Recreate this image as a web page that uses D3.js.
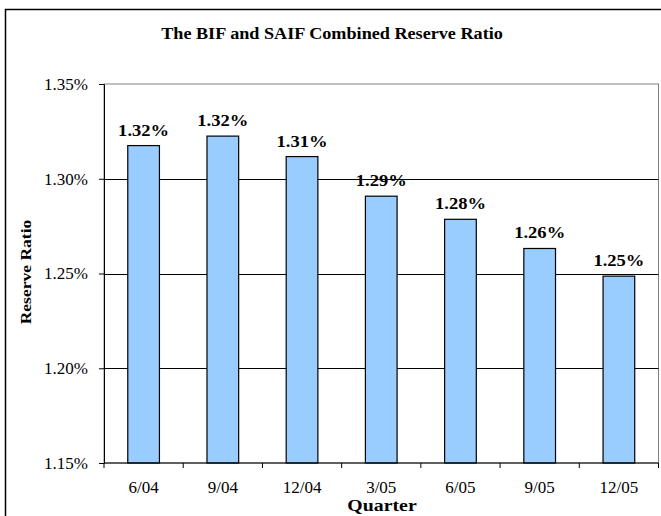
<!DOCTYPE html>
<html>
<head>
<meta charset="utf-8">
<script src="https://d3js.org/d3.v7.min.js"></script>
<style>
  body { margin: 0; background: #fff; }
  svg text { font-family: "Liberation Serif", "Times New Roman", serif; }
</style>
</head>
<body>
<div id="chart"></div>
<script>
// data
let quarters = ["6/04", "9/04", "12/04", "3/05", "6/05", "9/05", "12/05"];
let ratios = [1.3175, 1.3225, 1.3117, 1.2908, 1.2786, 1.2632, 1.2486];
let labels = ["1.32%", "1.32%", "1.31%", "1.29%", "1.28%", "1.26%", "1.25%"];
let y_ticks = [1.15, 1.20, 1.25, 1.30, 1.35];

function draw_chart(containerid) {
    let width = 661, height = 516;
    let svg = d3.select('#' + containerid).append('svg')
        .attr('width', width)
        .attr('height', height);

    let margin = ({ top: 84, right: 2.5, bottom: 53, left: 104 });

    // outer chart frame (runs off the right and bottom)
    svg.append('path')
        .attr('d', `M5.5,${height + 2} V9.5 H${width + 2}`)
        .attr('fill', 'none')
        .attr('stroke', '#000')
        .attr('stroke-width', 1.5);

    let x = d3.scaleBand(quarters, [margin.left, width - margin.right]).paddingInner(0.6).paddingOuter(0.3);
    let y = d3.scaleLinear([1.15, 1.35], [height - margin.bottom, margin.top]);

    // plot area box
    svg.append('rect')
        .attr('x', margin.left)
        .attr('y', margin.top)
        .attr('width', width - margin.right - margin.left)
        .attr('height', height - margin.bottom - margin.top)
        .attr('fill', 'none')
        .attr('stroke', '#808080')
        .attr('stroke-width', 1);

    // gridlines
    svg.append('g')
        .selectAll('line')
        .data(y_ticks.slice(1, -1))
        .join('line')
        .attr('x1', margin.left)
        .attr('x2', width - margin.right)
        .attr('y1', d => Math.round(y(d)) + 0.5)
        .attr('y2', d => Math.round(y(d)) + 0.5)
        .attr('stroke', '#000');

    // bars
    svg.append('g')
        .selectAll('rect')
        .data(ratios)
        .join('rect')
        .attr('x', (d, i) => x(quarters[i]))
        .attr('y', d => y(d))
        .attr('width', x.bandwidth())
        .attr('height', d => y(1.15) - y(d))
        .attr('fill', '#99ccff')
        .attr('stroke', '#000')
        .attr('stroke-width', 1.2);

    // value labels (bold text in the original renders wider)
    svg.append('g')
        .selectAll('text')
        .data(ratios)
        .join('text')
        .attr('transform', (d, i) => `translate(${x(quarters[i]) + x.bandwidth() / 2},${y(d) - 10}) scale(1.16,1)`)
        .attr('text-anchor', 'middle')
        .attr('font-size', 16)
        .attr('font-weight', 'bold')
        .text((d, i) => labels[i]);

    // y axis
    let yAxis = d3.axisLeft(y).tickValues(y_ticks).tickSize(5)
        .tickFormat(d => d.toFixed(2) + '%');
    svg.append('g')
        .attr('transform', `translate(${margin.left},0)`)
        .call(yAxis)
        .call(g => g.select('.domain').attr('stroke', '#000'))
        .call(g => g.selectAll('text').attr('font-size', 17)
            .attr('font-family', '"Liberation Serif", serif').attr('fill', '#000').attr('dx', -8));

    // x axis: ticks between categories
    let xl = d3.scaleLinear([0, quarters.length], [margin.left, width - margin.right]);
    let g = svg.append('g');
    g.append('line')
        .attr('x1', margin.left).attr('x2', width - margin.right)
        .attr('y1', y(1.15)).attr('y2', y(1.15))
        .attr('stroke', '#000');
    g.selectAll('line.tk')
        .data(d3.range(quarters.length + 1))
        .join('line')
        .attr('class', 'tk')
        .attr('x1', d => xl(d)).attr('x2', d => xl(d))
        .attr('y1', y(1.15)).attr('y2', y(1.15) + 5)
        .attr('stroke', '#000');
    g.selectAll('text')
        .data(quarters)
        .join('text')
        .attr('x', d => x(d) + x.bandwidth() / 2)
        .attr('y', y(1.15) + 30)
        .attr('text-anchor', 'middle')
        .attr('font-size', 17)
        .text(d => d);

    // title
    svg.append('text')
        .attr('transform', 'translate(332,39) scale(1.135,1)')
        .attr('text-anchor', 'middle')
        .attr('font-size', 16)
        .attr('font-weight', 'bold')
        .text('The BIF and SAIF Combined Reserve Ratio');

    // axis titles
    svg.append('text')
        .attr('transform', 'translate(382,511) scale(1.24,1)')
        .attr('text-anchor', 'middle')
        .attr('font-size', 16)
        .attr('font-weight', 'bold')
        .text('Quarter');

    svg.append('text')
        .attr('transform', 'translate(31,272) rotate(-90) scale(1.17,1)')
        .attr('text-anchor', 'middle')
        .attr('font-size', 15)
        .attr('font-weight', 'bold')
        .text('Reserve Ratio');
}

draw_chart('chart');
</script>
</body>
</html>
